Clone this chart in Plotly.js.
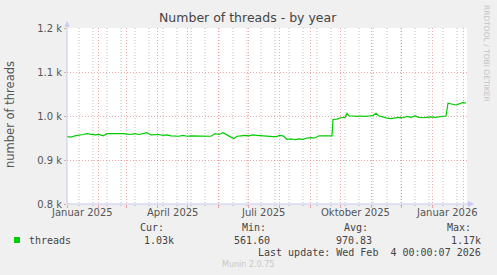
<!DOCTYPE html>
<html>
<head>
<meta charset="utf-8">
<script src="https://cdn.plot.ly/plotly-3.0.1.min.js"></script>
<style>html,body{margin:0;padding:0;background:#F0F0F0;}#chart{width:497px;height:275px;}</style>
</head>
<body>
<div id="chart"></div>
<script>
// ---- data ----
const dates = [
 '2025-01-01','2025-01-05','2025-01-09','2025-01-13','2025-01-17','2025-01-21','2025-01-25','2025-01-29',
 '2025-02-02','2025-02-06','2025-02-10','2025-02-14','2025-02-18','2025-02-22','2025-02-26',
 '2025-03-02','2025-03-06','2025-03-10','2025-03-14','2025-03-18','2025-03-22','2025-03-26','2025-03-30',
 '2025-04-03','2025-04-07','2025-04-11','2025-04-15','2025-04-19','2025-04-23','2025-04-27',
 '2025-05-01','2025-05-05','2025-05-09','2025-05-13','2025-05-17','2025-05-21','2025-05-25','2025-05-29',
 '2025-06-02','2025-06-06','2025-06-10','2025-06-14','2025-06-17','2025-06-20','2025-06-24','2025-06-28',
 '2025-07-02','2025-07-06','2025-07-10','2025-07-14','2025-07-18','2025-07-22','2025-07-26','2025-07-30',
 '2025-08-01','2025-08-05','2025-08-09','2025-08-13','2025-08-17','2025-08-21','2025-08-25','2025-08-29',
 '2025-09-02','2025-09-06','2025-09-10','2025-09-14','2025-09-18','2025-09-22','2025-09-23','2025-09-24','2025-09-28',
 '2025-10-02','2025-10-06','2025-10-08','2025-10-10','2025-10-14','2025-10-18','2025-10-22','2025-10-26','2025-10-30',
 '2025-11-03','2025-11-06','2025-11-09','2025-11-13','2025-11-17','2025-11-21','2025-11-25','2025-11-29',
 '2025-12-03','2025-12-07','2025-12-11','2025-12-15','2025-12-19','2025-12-23','2025-12-27','2025-12-31',
 '2026-01-04','2026-01-08','2026-01-12','2026-01-15','2026-01-17','2026-01-21','2026-01-25','2026-01-29',
 '2026-02-01','2026-02-04'
];
const threads = [
 953,952,955,956,958,960,959,957,
 958,955,960,960,960,961,960,
 959,958,960,958,960,962,957,957,
 958,956,957,955,955,954,956,
 954,955,955,954,955,954,954,960,
 958,962,956,952,949,954,955,956,
 955,957,956,955,955,953,953,953,
 956,955,947,948,946,948,947,950,
 951,950,955,955,955,955,955,992,993,
 996,997,1006,1000,1000,999,1000,999,1000,
 1001,1006,1000,998,995,994,996,997,
 996,999,997,1000,997,996,997,998,
 997,998,998,1000,1029,1027,1025,1028,
 1031,1029
];
const seriesName = 'threads';
const yTickVals = [800, 900, 1000, 1100, 1200];
const yTickText = ['0.8 k', '0.9 k', '1.0 k', '1.1 k', '1.2 k'];
const xLabelDates = ['2025-01-16', '2025-04-16', '2025-07-16', '2025-10-16', '2026-01-16'];
const xLabelText = ['Januar 2025', 'April 2025', 'Juli 2025', 'Oktober 2025', 'Januar 2026'];
const statHeads = ['Cur:', 'Min:', 'Avg:', 'Max:'];
const statValues = ['1.03k', '561.60', '970.83', '1.17k'];
const lastUpdate = 'Last update: Wed Feb  4 00:00:07 2026';

// ---- layout helpers (pixel -> paper) ----
const L = 67, R = 467, T = 28, B = 204;
const W = R - L, H = B - T;
const px = x => (x - L) / W;
const py = y => (B - y) / H;

const sans = 'DejaVu Sans, sans-serif';
const mono = 'DejaVu Sans Mono, monospace';
const red = 'rgba(225,110,110,0.6)';
const gray = 'rgba(150,150,150,0.6)';
const axisBlue = '#C8C8F0';
const xRange = ['2025-01-01', '2026-02-05'];

const annotations = [];
xLabelDates.forEach((d, i) => annotations.push({
  xref: 'x', yref: 'paper', x: d, y: py(212), text: xLabelText[i], showarrow: false,
  xanchor: 'center', yanchor: 'middle', font: {family: sans, size: 10, color: '#555'}
}));
annotations.push({xref: 'paper', yref: 'paper', x: px(248), y: py(18), text: 'Number of threads - by year',
  showarrow: false, xanchor: 'center', yanchor: 'middle', font: {family: sans, size: 12.5, color: '#444'}});
annotations.push({xref: 'paper', yref: 'paper', x: px(10), y: py(115), text: 'number of threads', textangle: -90,
  showarrow: false, xanchor: 'center', yanchor: 'middle', font: {family: sans, size: 11.5, color: '#555'}});
annotations.push({xref: 'paper', yref: 'paper', x: px(487), y: py(53), text: 'RRDTOOL / TOBI OETIKER', textangle: 90,
  showarrow: false, xanchor: 'center', yanchor: 'middle', font: {family: sans, size: 7.5, color: '#C4C4C4'}});
const headX = [152, 254, 356, 459];
statHeads.forEach((h, i) => annotations.push({xref: 'paper', yref: 'paper', x: px(headX[i]), y: py(228), text: h,
  showarrow: false, xanchor: 'center', yanchor: 'middle', font: {family: mono, size: 10, color: '#444'}}));
const valRight = [176, 272, 374, 483];
statValues.forEach((v, i) => annotations.push({xref: 'paper', yref: 'paper', x: px(valRight[i]), y: py(240), text: v,
  showarrow: false, xanchor: 'right', yanchor: 'middle', font: {family: mono, size: 10, color: '#444'}}));
annotations.push({xref: 'paper', yref: 'paper', x: px(27), y: py(240), text: seriesName,
  showarrow: false, xanchor: 'left', yanchor: 'middle', font: {family: mono, size: 10, color: '#444'}});
annotations.push({xref: 'paper', yref: 'paper', x: px(483), y: py(252), text: lastUpdate.replace(/  /g, ' &nbsp;'),
  showarrow: false, xanchor: 'right', yanchor: 'middle', font: {family: mono, size: 10, color: '#444'}});
annotations.push({xref: 'paper', yref: 'paper', x: px(248), y: py(264), text: 'Munin 2.0.75',
  showarrow: false, xanchor: 'center', yanchor: 'middle', font: {family: sans, size: 8, color: '#C8C8C8'}});

const shapes = [];
// minor (two-week) grid lines, generated from the axis start
const DAY = 86400000;
for (let t = Date.parse('2025-01-13T00:00:00Z'); t < Date.parse(xRange[1] + 'T00:00:00Z'); t += 14 * DAY) {
  const d = new Date(t).toISOString().slice(0, 10);
  shapes.push({type: 'line', xref: 'x', yref: 'paper', x0: d, x1: d, y0: -2 / H, y1: 1, layer: 'below',
               line: {color: gray, width: 1, dash: '1px,2px'}});
}
shapes.push(
  // y axis line + arrow
  {type: 'line', xref: 'paper', yref: 'paper', x0: 0, x1: 0, y0: 0, y1: py(23), line: {color: axisBlue, width: 1}},
  {type: 'path', xref: 'paper', yref: 'paper', path: `M ${px(64.5)} ${py(26.5)} L ${px(69.5)} ${py(26.5)} L ${px(67)} ${py(21)} Z`,
   fillcolor: axisBlue, line: {width: 0}},
  // x axis line + arrow
  {type: 'line', xref: 'paper', yref: 'paper', x0: 0, x1: px(469), y0: 0, y1: 0, line: {color: axisBlue, width: 1}},
  {type: 'path', xref: 'paper', yref: 'paper', path: `M ${px(468)} ${py(201)} L ${px(468)} ${py(207)} L ${px(474)} ${py(204)} Z`,
   fillcolor: axisBlue, line: {width: 0}},
  // legend swatch
  {type: 'rect', xref: 'paper', yref: 'paper', x0: px(14), x1: px(20), y0: py(243), y1: py(237),
   fillcolor: '#00CC00', line: {width: 0}}
);

const trace = {
  x: dates, y: threads, type: 'scatter', mode: 'lines', name: seriesName,
  line: {color: '#00CC00', width: 1.2}, hoverinfo: 'skip'
};

const layout = {
  width: 497, height: 275,
  margin: {l: L, r: 497 - R, t: T, b: 275 - B, pad: 0},
  paper_bgcolor: '#F0F0F0', plot_bgcolor: '#FFFFFF',
  showlegend: false,
  xaxis: {
    type: 'date', range: xRange,
    tick0: '2025-01-01', dtick: 'M1', showticklabels: false,
    showgrid: true, gridcolor: red, griddash: '1px,2px', gridwidth: 1,
    ticks: 'outside', ticklen: 3, tickcolor: red, tickwidth: 1,
    showline: false, zeroline: false, fixedrange: true
  },
  yaxis: {
    range: [800, 1200], tickvals: yTickVals, ticktext: yTickText,
    tickfont: {family: sans, size: 10, color: '#555'},
    showgrid: true, gridcolor: red, griddash: '1px,2px', gridwidth: 1,
    ticks: 'outside', ticklen: 2, tickcolor: red,
    showline: false, zeroline: false, fixedrange: true
  },
  annotations: annotations,
  shapes: shapes
};

Plotly.newPlot('chart', [trace], layout, {displayModeBar: false, staticPlot: true});
</script>
</body>
</html>
